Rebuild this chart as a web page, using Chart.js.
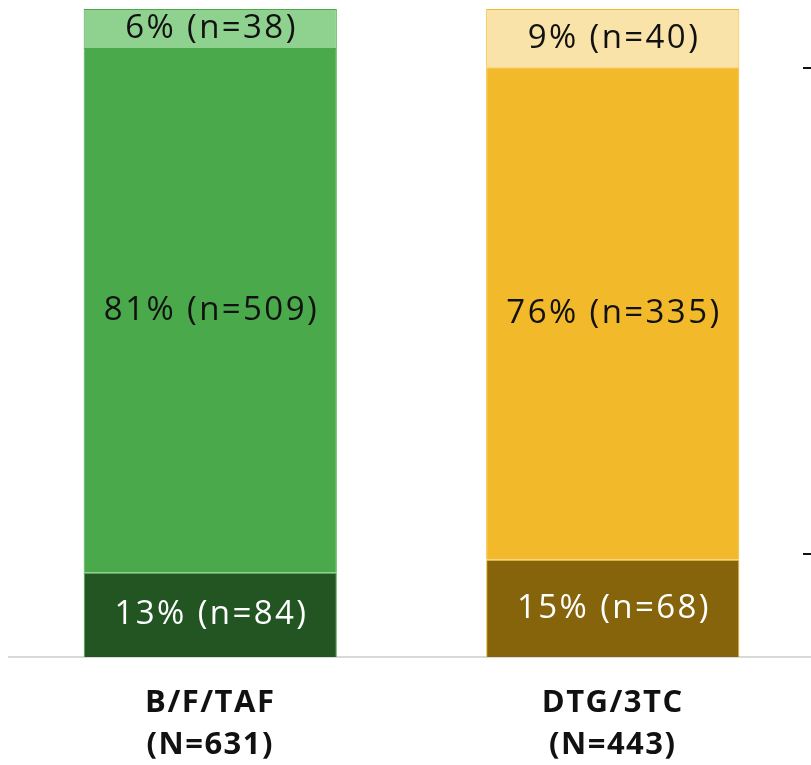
<!DOCTYPE html>
<html>
<head>
<meta charset="utf-8">
<script src="https://cdn.jsdelivr.net/npm/chart.js@4/dist/chart.umd.min.js"></script>
<style>
  html, body { margin: 0; padding: 0; background: #fff; overflow: hidden; }
  #c { display: block; }
</style>
</head>
<body>
<canvas id="c" width="816" height="765"></canvas>
<script>
// Regimens and their group sizes
const categories = [['B/F/TAF', '(N=631)'], ['DTG/3TC', '(N=443)']];

// Stacked segments, bottom to top: percentage of group and patient count
const bottomPct = [13, 15];
const bottomN   = [84, 68];
const middlePct = [81, 76];
const middleN   = [509, 335];
const topPct    = [6, 9];
const topN      = [38, 40];

// Short tick marks on the right-hand edge
const rightTicks = [16, 91];

const FONT = '"Open Sans", "Noto Sans", sans-serif';

// Slightly airy lettering for the category labels
const wideLetters = {
  id: 'wideLetters',
  beforeDraw(chart) {
    chart.ctx.letterSpacing = '1.5px';
  },
  afterDraw(chart) {
    chart.ctx.letterSpacing = '0px';
  }
};

// Writes "xx% (n=yy)" in the middle of every segment
const segmentLabels = {
  id: 'segmentLabels',
  afterDatasetsDraw(chart) {
    const ctx = chart.ctx;
    chart.data.datasets.forEach((ds, i) => {
      const meta = chart.getDatasetMeta(i);
      meta.data.forEach((bar, j) => {
        const p = bar.getProps(['x', 'y', 'base'], true);
        ctx.save();
        ctx.font = '33px ' + FONT;
        ctx.letterSpacing = '2.4px';
        ctx.fillStyle = ds.labelColor;
        ctx.textAlign = 'center';
        ctx.textBaseline = 'middle';
        ctx.fillText(ds.data[j] + '% (n=' + ds.counts[j] + ')', p.x + 1.2, (p.y + p.base) / 2);
        ctx.restore();
      });
    });
  }
};

// Little dark ticks hugging the right border
const edgeTicks = {
  id: 'edgeTicks',
  afterDraw(chart) {
    const ctx = chart.ctx;
    const ys = chart.scales.y;
    const right = chart.chartArea.right;
    ctx.save();
    ctx.strokeStyle = '#111111';
    ctx.lineWidth = 2;
    rightTicks.forEach(v => {
      const py = Math.round(ys.getPixelForValue(v)) + 1;
      ctx.beginPath();
      ctx.moveTo(right - 11, py);
      ctx.lineTo(right, py);
      ctx.stroke();
    });
    ctx.restore();
  }
};

new Chart(document.getElementById('c'), {
  type: 'bar',
  data: {
    labels: categories,
    datasets: [
      {
        data: bottomPct,
        counts: bottomN,
        labelColor: '#ffffff',
        backgroundColor: ['#235523', '#86640b'],
        borderColor: ['#4aa94a', '#f2b92b'],
        borderWidth: 1
      },
      {
        data: middlePct,
        counts: middleN,
        labelColor: '#111111',
        backgroundColor: ['#4aa94a', '#f2b92b'],
        borderColor: ['#4aa94a', '#f2b92b'],
        borderWidth: 1
      },
      {
        data: topPct,
        counts: topN,
        labelColor: '#111111',
        backgroundColor: ['#8fd18f', '#f9e3a9'],
        borderColor: ['#4aa94a', '#f2b92b'],
        borderWidth: 1
      }
    ]
  },
  options: {
    responsive: false,
    animation: false,
    devicePixelRatio: 1,
    layout: { padding: { top: 9, left: 9, right: 2, bottom: 0 } },
    plugins: {
      legend: { display: false },
      tooltip: { enabled: false }
    },
    datasets: { bar: { categoryPercentage: 1, barPercentage: 0.629 } },
    scales: {
      x: {
        stacked: true,
        grid: { display: false, drawTicks: false },
        border: { display: true, color: '#d9d9d9', width: 2 },
        ticks: {
          color: '#111111',
          padding: 25,
          font: { family: FONT, size: 31, weight: 'bold', lineHeight: 1.36 },
          maxRotation: 0
        },
        afterFit(scale) { scale.height = 108; }
      },
      y: {
        stacked: true,
        display: false,
        min: 0,
        max: 100
      }
    }
  },
  plugins: [wideLetters, segmentLabels, edgeTicks]
});
</script>
</body>
</html>
